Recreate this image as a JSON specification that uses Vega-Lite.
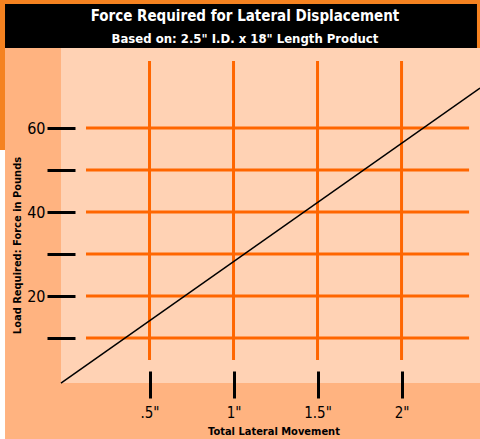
{
  "$schema": "https://vega.github.io/schema/vega-lite/v6.json",
  "width": 419,
  "height": 335,
  "autosize": {"type": "none"},
  "padding": {"left": 61, "top": 48, "right": 0, "bottom": 56},
  "background": "#FFB380",
  "config": {
    "view": {"fill": "#FFD2B4", "stroke": null},
    "font": "Liberation Sans Narrow, Arial Narrow, DejaVu Sans Condensed, sans-serif"
  },
  "datasets": {
    "one": [{"k": 1}],
    "hgrid": [{"load": 10}, {"load": 20}, {"load": 30}, {"load": 40}, {"load": 50}, {"load": 60}],
    "vgrid": [{"move": 0.5}, {"move": 1}, {"move": 1.5}, {"move": 2}],
    "force": [{"move": -0.027, "load": -0.72}, {"move": 2.467, "load": 69.5}],
    "titles": [
      {"text": "Force Required for Lateral Displacement", "kind": "title"},
      {"text": "Based on: 2.5\" I.D. x 18\" Length Product", "kind": "subtitle"}
    ]
  },
  "layer": [
    {
      "data": {"name": "one"},
      "mark": {"type": "rect", "color": "#F58220", "clip": false},
      "encoding": {
        "x": {"datum": -0.39, "type": "quantitative"},
        "x2": {"datum": 2.467},
        "y": {"datum": 90.5, "type": "quantitative"},
        "y2": {"datum": 79.05}
      }
    },
    {
      "data": {"name": "one"},
      "mark": {"type": "rect", "color": "#F58220", "clip": false},
      "encoding": {
        "x": {"datum": -0.39, "type": "quantitative"},
        "x2": {"datum": -0.36},
        "y": {"datum": 79.05, "type": "quantitative"},
        "y2": {"datum": 54.76}
      }
    },
    {
      "data": {"name": "one"},
      "mark": {"type": "rect", "color": "#FFFFFF", "clip": false},
      "encoding": {
        "x": {"datum": -0.39, "type": "quantitative"},
        "x2": {"datum": -0.36},
        "y": {"datum": 54.76, "type": "quantitative"},
        "y2": {"datum": -14.1}
      }
    },
    {
      "data": {"name": "one"},
      "mark": {"type": "rect", "color": "#000000", "clip": false},
      "encoding": {
        "x": {"datum": -0.36, "type": "quantitative"},
        "x2": {"datum": 2.449},
        "y": {"datum": 89.52, "type": "quantitative"},
        "y2": {"datum": 79.05}
      }
    },
    {
      "data": {"name": "titles"},
      "transform": [{"filter": "datum.kind == 'title'"}],
      "mark": {"type": "text", "color": "#FFFFFF", "fontSize": 15, "fontWeight": "bold", "align": "center", "baseline": "alphabetic", "clip": false},
      "encoding": {
        "text": {"field": "text"},
        "x": {"datum": 1.068, "type": "quantitative"},
        "y": {"datum": 85.4, "type": "quantitative"}
      }
    },
    {
      "data": {"name": "titles"},
      "transform": [{"filter": "datum.kind == 'subtitle'"}],
      "mark": {"type": "text", "color": "#FFFFFF", "fontSize": 13, "fontWeight": "bold", "align": "center", "baseline": "alphabetic", "clip": false},
      "encoding": {
        "text": {"field": "text"},
        "x": {"datum": 1.068, "type": "quantitative"},
        "y": {"datum": 80.3, "type": "quantitative"}
      }
    },
    {
      "data": {"name": "hgrid"},
      "mark": {"type": "rule", "color": "#FF6600", "strokeWidth": 3},
      "encoding": {
        "y": {"field": "load", "type": "quantitative"},
        "x": {"datum": 0.122, "type": "quantitative"},
        "x2": {"datum": 2.402}
      }
    },
    {
      "data": {"name": "vgrid"},
      "mark": {"type": "rule", "color": "#FF6600", "strokeWidth": 3},
      "encoding": {
        "x": {"field": "move", "type": "quantitative"},
        "y": {"datum": 75.95, "type": "quantitative"},
        "y2": {"datum": 4.76}
      }
    },
    {
      "data": {"name": "force"},
      "mark": {"type": "line", "color": "#000000", "strokeWidth": 1.5, "clip": false},
      "encoding": {
        "x": {
          "field": "move",
          "type": "quantitative",
          "scale": {"domain": [-0.0268, 2.467], "nice": false, "zero": false},
          "axis": {
            "title": "Total Lateral Movement",
            "values": [0.5, 1, 1.5, 2],
            "labelExpr": "(datum.value < 1 ? '.5' : format(datum.value, '~g')) + '\"'",
            "offset": -12,
            "tickSize": 27,
            "tickWidth": 3,
            "tickColor": "#000000",
            "domain": false,
            "grid": false,
            "labelPadding": 7,
            "labelFontSize": 15,
            "labelColor": "#000000",
            "titleFontSize": 11,
            "titleFontWeight": "bold",
            "titleColor": "#000000",
            "titleX": 212.5,
            "titleY": 63,
            "titleAlign": "center",
            "titleBaseline": "alphabetic"
          }
        },
        "y": {
          "field": "load",
          "type": "quantitative",
          "scale": {"domain": [-0.714, 79.05], "nice": false, "zero": false},
          "axis": {
            "title": "Load Required: Force in Pounds",
            "values": [10, 20, 30, 40, 50, 60],
            "labelExpr": "datum.value % 20 == 0 ? datum.label : ''",
            "offset": -14,
            "tickSize": 28,
            "tickWidth": 3,
            "tickColor": "#000000",
            "domain": false,
            "grid": false,
            "labelPadding": 2,
            "labelFontSize": 16,
            "labelColor": "#000000",
            "labelOverlap": false,
            "titleFontSize": 11,
            "titleFontWeight": "bold",
            "titleColor": "#000000",
            "titleX": -55,
            "titleY": 197,
            "titleAngle": -90,
            "titleAlign": "center",
            "titleBaseline": "alphabetic"
          }
        }
      }
    }
  ]
}
